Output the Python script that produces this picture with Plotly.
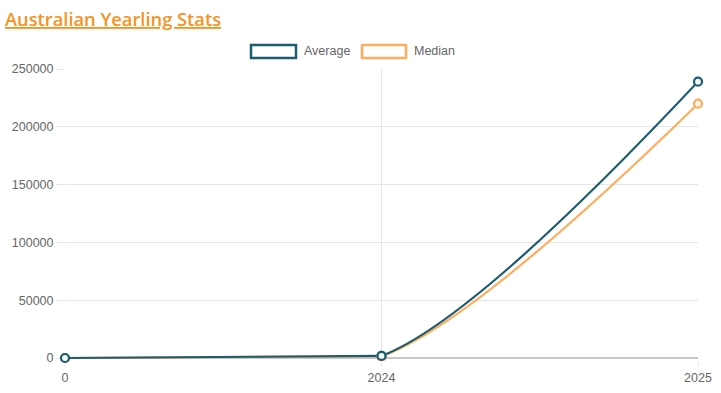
import plotly.graph_objects as go

categories = ["0", "2024", "2025"]
average = [0, 1800, 239000]
median = [0, 1500, 220000]
y_ticks = [0, 50000, 100000, 150000, 200000, 250000]

AVG_C = "#1b5c6e"
MED_C = "#ffad5c"
GRID = "#e6e6e6"
TXT = "#666666"

# plot area: x 65..698, y(250000)=69, y(0)=358, extended 4px below zero
L, R, TOP, ZERO, EXT_PX = 65, 698, 69, 358, 4
ext = EXT_PX / (ZERO - TOP) * 250000
W, H = 721, 393

series = [("Median", median, MED_C), ("Average", average, AVG_C)]

def marker(col):
    return dict(symbol="circle", size=8, color="#f4f7f8" if col == AVG_C else "#fff7ee",
                line=dict(color=col, width=2.2))

fig = go.Figure()
# main subplot: flat first segment + markers
for name, vals, col in series:
    fig.add_trace(go.Scatter(
        x=categories[:2], y=vals[:2], name=name, mode="lines+markers",
        line=dict(color=col, width=2.2), marker=marker(col),
        cliponaxis=False, showlegend=False,
    ))
# right-half subplot: curved segment (clipped like Chart.js capping its control points)
for name, vals, col in series:
    fig.add_trace(go.Scatter(
        x=categories, y=vals, name=name, mode="lines",
        line=dict(color=col, width=2.2, shape="spline", smoothing=0.8),
        xaxis="x2", yaxis="y2", showlegend=False, hoverinfo="skip",
    ))
for name, vals, col in series:
    fig.add_trace(go.Scatter(
        x=categories, y=vals, name=name, mode="markers", marker=marker(col),
        xaxis="x2", yaxis="y2", cliponaxis=False, showlegend=False,
    ))

fig.update_layout(
    template="none",
    width=W, height=H,
    margin=dict(l=L, r=W - R, t=TOP, b=H - (ZERO + EXT_PX)),
    paper_bgcolor="white", plot_bgcolor="rgba(0,0,0,0)",
    font=dict(family="Liberation Sans, Arial, sans-serif", size=12, color=TXT),
    xaxis=dict(type="category", categoryorder="array", categoryarray=categories,
               tickvals=categories, ticktext=categories,
               range=[0, 2], showgrid=True, gridcolor=GRID, gridwidth=1,
               ticks="outside", ticklen=4, tickcolor=GRID, zeroline=False, layer="below traces",
               showline=False, automargin=False, tickfont=dict(size=12.5, color=TXT)),
    yaxis=dict(range=[-ext, 250000], tickvals=y_ticks, ticktext=[str(v) for v in y_ticks],
               showgrid=True, gridcolor=GRID, gridwidth=1, ticks="outside", ticklen=8,
               tickcolor=GRID, zeroline=True, zerolinecolor="#c8c8c8", zerolinewidth=2,
               showline=False, layer="below traces", automargin=False,
               tickfont=dict(size=12.5, color=TXT)),
    xaxis2=dict(type="category", categoryorder="array", categoryarray=categories,
                domain=[0.5, 1], range=[1, 2], visible=False,
                showgrid=False, zeroline=False, automargin=False),
    yaxis2=dict(range=[-ext, 250000], anchor="x2", visible=False, showgrid=False,
                zeroline=False, automargin=False),
    showlegend=False,
)

def px_x(p):
    return (p - L) / (R - L)
def px_y(p):
    return (ZERO + EXT_PX - p) / (ZERO + EXT_PX - TOP)

# Title
fig.add_annotation(xref="paper", yref="paper", x=px_x(3), y=px_y(18),
                   xanchor="left", yanchor="middle", showarrow=False,
                   text="<u>Australian Yearling Stats</u>",
                   font=dict(family="Open Sans", size=18.3, color="#f7921e", weight=600))

# Legend boxes (custom, box style)
for (x0, x1, tx, label, col) in [(251, 296, 302, "Average", AVG_C), (362, 406, 412, "Median", MED_C)]:
    fig.add_shape(type="rect", xref="paper", yref="paper",
                  x0=px_x(x0), x1=px_x(x1), y0=px_y(58), y1=px_y(45),
                  line=dict(color=col, width=2.5), fillcolor="rgba(255,255,255,0)")
    fig.add_annotation(xref="paper", yref="paper", x=px_x(tx), y=px_y(51),
                       xanchor="left", yanchor="middle", showarrow=False,
                       text=label, font=dict(size=12.5, color=TXT))

fig.write_html("out.html", config={"displayModeBar": False},
               post_script="document.body.style.margin='0';")
